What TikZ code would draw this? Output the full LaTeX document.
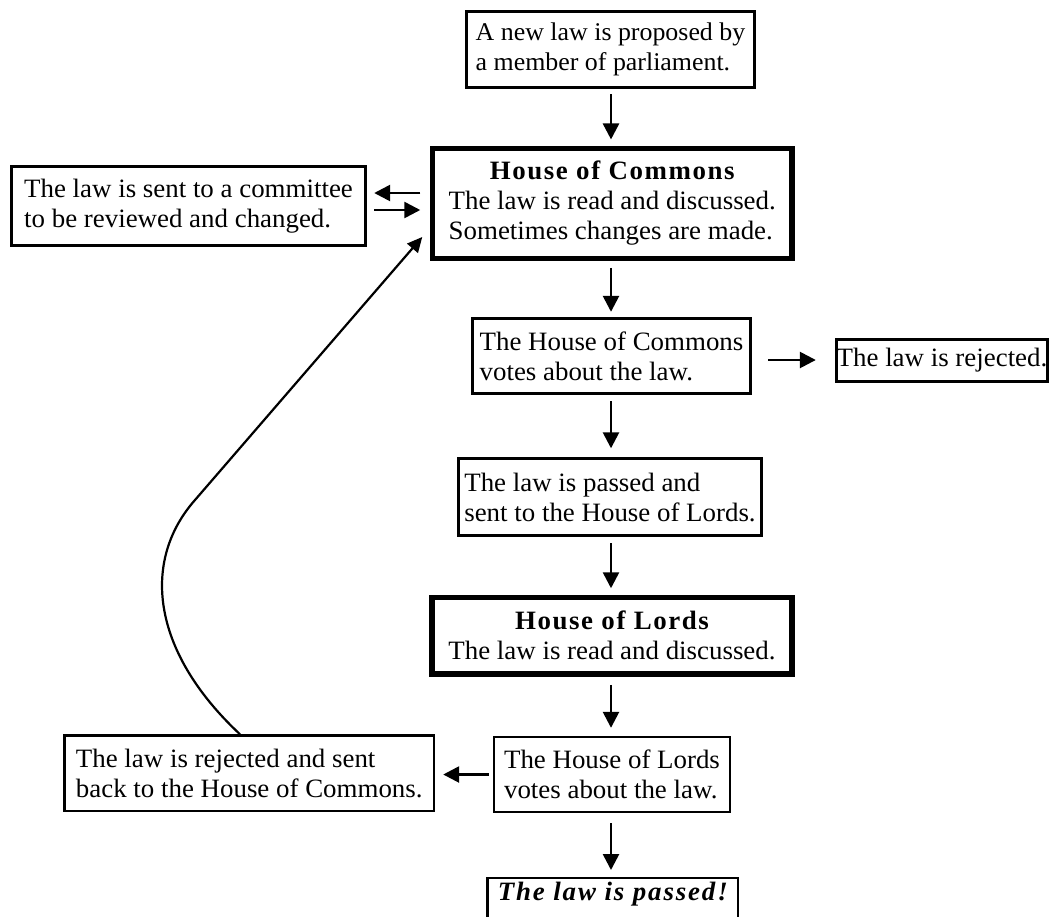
\documentclass[tikz,border=0pt]{standalone}
\usepackage{fontspec}
\setmainfont{Liberation Serif}[FakeStretch=1.015]
\usetikzlibrary{arrows.meta}
\newcommand{\hdg}[1]{{\bfseries\addfontfeature{LetterSpace=6}#1}}
\newcommand{\hdgi}[1]{{\bfseries\itshape\addfontfeature{LetterSpace=7}#1}}
\begin{document}
\begin{tikzpicture}[x=1pt,y=-1pt,
  box/.style={draw, line width=2.4pt, inner xsep=2pt, inner ysep=1pt,
    font=\fontsize{26.5}{30}\selectfont, align=left},
  thickbox/.style={box, line width=5.5pt},
  arr/.style={line width=2.6pt, -{Triangle[length=16pt,width=16pt]}},
  curvearr/.style={line width=2.2pt, -{Triangle[length=15pt,width=14pt]}}]
\useasboundingbox (0,0) rectangle (1051,916);
\coordinate (ax) at (611,0);

\node[box, minimum width=288pt, minimum height=76pt, font=\fontsize{25.5}{30}\selectfont] (prop) at (610.5,49.5)
  {A new law is proposed by\\a member of parliament.};
\node[thickbox, minimum width=359.5pt, minimum height=110pt] (hoc) at (612.25,203.7)
  {\begin{tabular}{@{}l@{}}\multicolumn{1}{@{}c@{}}{\hdg{House of Commons}}\\
   The law is read and discussed.\\ Sometimes changes are made.\end{tabular}};
\node[box, minimum width=354pt, minimum height=79pt] (comm) at (188.5,206)
  {The law is sent to a committee\\to be reviewed and changed.};
\node[box, minimum width=278pt, minimum height=75pt] (cvote) at (611.5,356)
  {The House of Commons\\votes about the law.};
\node[box, minimum width=211pt, minimum height=42pt, inner xsep=0pt] (rej) at (942,360.5)
  {The law is rejected.};
\node[box, minimum width=303pt, minimum height=77pt] (passed) at (610,497)
  {The law is passed and\\sent to the House of Lords.};
\node[thickbox, minimum width=360pt, minimum height=76.5pt, align=center] (hol) at (612,635.75)
  {\hdg{House of Lords}\\The law is read and discussed.};
\node[box, minimum width=236pt, minimum height=75pt] (lvote) at (612,774.5)
  {The House of Lords\\votes about the law.};
\node[box, minimum width=369.5pt, minimum height=75.5pt] (back) at (249.25,773.25)
  {The law is rejected and sent\\back to the House of Commons.};
\node[box, minimum width=250.5pt, minimum height=50pt, anchor=north,
  text height=18pt, text depth=23pt] (final) at (612.75,876.5)
  {\hdgi{The law is passed!}};

\draw[arr, shorten <=5.5pt, shorten >=6.5pt] (prop.south -| ax) -- (hoc.north -| ax);
\draw[arr, shorten <=6.3pt, shorten >=5.5pt] (hoc.south -| ax) -- (cvote.north -| ax);
\draw[arr, shorten <=6.5pt, shorten >=9pt] (cvote.south -| ax) -- (passed.north -| ax);
\draw[arr, shorten <=6.5pt, shorten >=6.5pt] (passed.south -| ax) -- (hol.north -| ax);
\draw[arr, shorten <=8pt, shorten >=8pt] (hol.south -| ax) -- (lvote.north -| ax);
\draw[arr, shorten <=10pt, shorten >=6.5pt] (lvote.south -| ax) -- (final.north -| ax);

\draw[arr, shorten <=9.5pt, shorten >=7.5pt] ([yshift=10.7pt]hoc.west) -- ([yshift=10.7pt]hoc.west -| comm.east);
\draw[arr, shorten <=7.5pt, shorten >=9.5pt] ([yshift=-4pt]comm.east) -- ([yshift=-4pt]comm.east -| hoc.west);
\draw[arr, shorten <=16.5pt, shorten >=19.5pt] ([yshift=-4pt]cvote.east) -- ([yshift=-4pt]cvote.east -| rej.west);
\draw[arr, shorten <=4pt, shorten >=8pt] (lvote.west) -- (lvote.west -| back.east);

\draw[curvearr] ([xshift=-9.25pt]back.north) .. controls (150,650) and (142,560) .. (195,500)
  -- ([xshift=-7.5pt,yshift=-33.3pt]hoc.west);
\end{tikzpicture}
\end{document}
